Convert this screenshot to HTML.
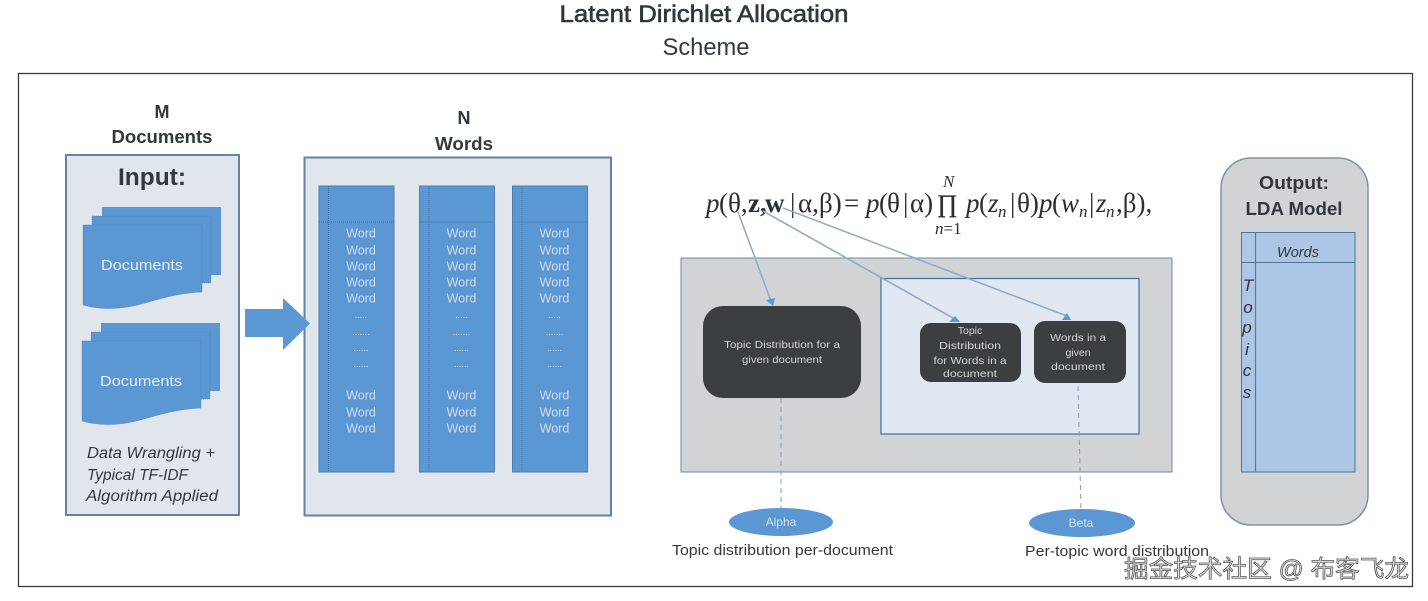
<!DOCTYPE html>
<html><head><meta charset="utf-8">
<style>
html,body{margin:0;padding:0;background:#fff;width:1428px;height:601px;overflow:hidden}
svg{display:block}
text{font-family:"Liberation Sans","DejaVu Sans",sans-serif}
.b{font-weight:bold;fill:#33383d}
.w{fill:#cfdcf0;font-size:12.5px;text-anchor:middle}
.d{fill:#cfdcf0;font-size:9px;text-anchor:middle}
.t{fill:#d4d6d8;font-size:10.5px;text-anchor:middle}
.m{font-family:"Liberation Serif",serif;font-size:27px;fill:#2b2f33}
.s{font-family:"Liberation Serif",serif;font-size:17px;fill:#2b2f33}
.i{font-style:italic}
</style></head><body>
<svg width="1428" height="601" viewBox="0 0 1428 601" xmlns="http://www.w3.org/2000/svg">
<defs>
<path id="doc" d="M0 0H119V67C96 68 80 73 62 78C38 85 18 85 0 80Z"/>
<g id="stack">
<rect x="19" y="-18" width="119" height="68" fill="#5b97d3"/>
<rect x="9" y="-9" width="119" height="67" fill="#5b97d3" stroke="#4a7fb5" stroke-width=".5" stroke-dasharray="1 1"/>
<use href="#doc" fill="#5b97d3" stroke="#4a7fb5" stroke-width=".4"/>
</g>
<g id="col">
<rect x="0" y="0" width="75" height="286" fill="#5b97d3" stroke="#4c7fb3" stroke-width="1"/>
<line x1="9.5" y1="0" x2="9.5" y2="286" stroke="#42709f" stroke-width="1" stroke-dasharray="1 1"/>
<line x1="0" y1="36" x2="75" y2="36" stroke="#42709f" stroke-width="1" stroke-dasharray="1 1"/>
<g>
<text class="w" x="42" y="51.500">Word</text>
<text class="w" x="42" y="68.500">Word</text>
<text class="w" x="42" y="84.500">Word</text>
<text class="w" x="42" y="100.500">Word</text>
<text class="w" x="42" y="116.500">Word</text>
<text class="d" x="42" y="132">.....</text>
<text class="d" x="42" y="149">.......</text>
<text class="d" x="42" y="165">......</text>
<text class="d" x="42" y="181">......</text>
<text class="w" x="42" y="213.500">Word</text>
<text class="w" x="42" y="230.500">Word</text>
<text class="w" x="42" y="246.500">Word</text>
</g>
</g>
</defs>

<!-- title -->
<text x="704" y="22" text-anchor="middle" font-size="24" fill="#33383d" stroke="#33383d" stroke-width=".6" textLength="289" lengthAdjust="spacingAndGlyphs">Latent Dirichlet Allocation</text>
<text x="706" y="55" text-anchor="middle" font-size="24" fill="#33383d" textLength="87" lengthAdjust="spacingAndGlyphs">Scheme</text>

<!-- outer frame -->
<rect x="18.500" y="73.500" width="1394" height="513" fill="#fff" stroke="#3a3a3a" stroke-width="1.300"/>

<!-- M documents -->
<text x="162" y="118" text-anchor="middle" font-size="18" class="b">M</text>
<text x="162" y="143" text-anchor="middle" font-size="18" class="b" textLength="101" lengthAdjust="spacingAndGlyphs">Documents</text>
<rect x="66" y="155" width="173" height="360" fill="#e1e5ec" stroke="#64839f" stroke-width="2"/>
<text x="152" y="185" text-anchor="middle" font-size="24" class="b" textLength="68" lengthAdjust="spacingAndGlyphs">Input:</text>
<use href="#stack" x="83" y="225"/>
<use href="#stack" x="82" y="341"/>
<text x="142" y="270" text-anchor="middle" font-size="14.500" fill="#e4ecf6" textLength="82" lengthAdjust="spacingAndGlyphs">Documents</text>
<text x="141" y="386" text-anchor="middle" font-size="14.500" fill="#e4ecf6" textLength="82" lengthAdjust="spacingAndGlyphs">Documents</text>
<g font-size="15.500" font-style="italic" fill="#33383d">
<text x="87" y="458" textLength="128" lengthAdjust="spacingAndGlyphs">Data Wrangling +</text>
<text x="87" y="480" textLength="101" lengthAdjust="spacingAndGlyphs">Typical TF-IDF</text>
<text x="86" y="501" textLength="132" lengthAdjust="spacingAndGlyphs">Algorithm Applied</text>
</g>

<!-- N words -->
<text x="464" y="124" text-anchor="middle" font-size="18" class="b">N</text>
<text x="464" y="150" text-anchor="middle" font-size="18" class="b" textLength="58" lengthAdjust="spacingAndGlyphs">Words</text>
<rect x="304.500" y="157.500" width="306.500" height="358" fill="#e1e5ec" stroke="#64839f" stroke-width="2"/>
<use href="#col" x="319" y="186"/>
<use href="#col" x="419.500" y="186"/>
<use href="#col" x="512.500" y="186"/>

<!-- big arrow -->
<polygon points="245,309 283,309 283,298 310,323.500 283,350 283,337 245,337" fill="#5b97d3"/>

<!-- formula -->
<text class="m i" x="706" y="212">p</text>
<text class="m" x="719" y="212">(</text>
<text class="m" x="728" y="212">θ,</text>
<text class="m" x="748" y="212" font-weight="bold">z,</text>
<text class="m" x="765" y="212" font-weight="bold">w</text>
<text class="m" x="790" y="212">|</text>
<text class="m" x="798" y="212">α,</text>
<text class="m" x="819" y="212">β)</text>
<text class="m" x="844" y="212">=</text>
<text class="m i" x="866" y="212">p</text>
<text class="m" x="879" y="212">(</text>
<text class="m" x="887" y="212">θ</text>
<text class="m" x="903" y="212">|</text>
<text class="m" x="910" y="212">α)</text>
<text class="m" x="937" y="212" style="font-size:25px" stroke="#2b2f33" stroke-width=".4">∏</text>
<text class="s i" x="943" y="187">N</text>
<text class="s" x="935" y="234"><tspan font-style="italic">n</tspan>=1</text>
<text class="m i" x="966" y="212">p</text>
<text class="m" x="979" y="212">(</text>
<text class="m i" x="988" y="212">z</text>
<text class="s i" x="998" y="217">n</text>
<text class="m" x="1010" y="212">|</text>
<text class="m" x="1017" y="212">θ)</text>
<text class="m i" x="1039" y="212">p</text>
<text class="m" x="1052" y="212">(</text>
<text class="m i" x="1061" y="212">w</text>
<text class="s i" x="1079" y="217">n</text>
<text class="m" x="1089" y="212">|</text>
<text class="m i" x="1096" y="212">z</text>
<text class="s i" x="1106" y="217">n</text>
<text class="m" x="1116" y="212">,β),</text>

<!-- gray panel -->
<rect x="681" y="258" width="491" height="214" fill="#d1d3d5" stroke="#6d8cab" stroke-width="1"/>
<rect x="881" y="278.500" width="258" height="155.500" fill="#e2e8f1" stroke="#3f6fa5" stroke-width="1.200"/>
<rect x="703" y="306" width="158" height="92" rx="20" fill="#3c3f41"/>
<rect x="920" y="323" width="101" height="59" rx="11" fill="#3c3f41"/>
<rect x="1034" y="321" width="92" height="62" rx="11" fill="#3c3f41"/>
<text class="t" x="782" y="348" textLength="116" lengthAdjust="spacingAndGlyphs">Topic Distribution for a</text>
<text class="t" x="782" y="363" textLength="80" lengthAdjust="spacingAndGlyphs">given document</text>
<text class="t" x="970" y="334">Topic</text>
<text class="t" x="970" y="349" textLength="62" lengthAdjust="spacingAndGlyphs">Distribution</text>
<text class="t" x="970" y="364" textLength="73" lengthAdjust="spacingAndGlyphs">for Words in a</text>
<text class="t" x="970" y="377" textLength="54" lengthAdjust="spacingAndGlyphs">document</text>
<text class="t" x="1078" y="341" textLength="56" lengthAdjust="spacingAndGlyphs">Words in a</text>
<text class="t" x="1078" y="356">given</text>
<text class="t" x="1078" y="370" textLength="54" lengthAdjust="spacingAndGlyphs">document</text>

<!-- connectors -->
<g stroke="#8faccc" stroke-width="1.600" fill="none">
<line x1="738" y1="212" x2="771" y2="301"/>
<line x1="763" y1="211" x2="953" y2="318"/>
<line x1="783" y1="208" x2="1067" y2="316"/>
</g>
<g fill="#5b97d3">
<polygon points="766,300 775,298 773,306"/>
<polygon points="949,322 955,316 960,322"/>
<polygon points="1062,320 1067,313 1071,320"/>
</g>
<g stroke="#8a9db3" stroke-width="1" stroke-dasharray="5 4" fill="none">
<line x1="781" y1="398" x2="781" y2="508"/>
<line x1="1078" y1="386" x2="1081" y2="509"/>
</g>

<!-- ellipses -->
<ellipse cx="781" cy="522" rx="52" ry="14" fill="#5b97d3"/>
<ellipse cx="1082" cy="523" rx="53" ry="14" fill="#5b97d3"/>
<text x="781" y="526" text-anchor="middle" font-size="12" fill="#d6e2f2">Alpha</text>
<text x="1081" y="527" text-anchor="middle" font-size="12" fill="#d6e2f2">Beta</text>
<text x="672" y="555" font-size="14.500" fill="#33383d" textLength="221" lengthAdjust="spacingAndGlyphs">Topic distribution per-document</text>
<text x="1025" y="556" font-size="14.500" fill="#33383d" textLength="184" lengthAdjust="spacingAndGlyphs">Per-topic word distribution</text>

<!-- output -->
<rect x="1221" y="158" width="147" height="367" rx="30" fill="#d1d3d5" stroke="#7d93a8" stroke-width="1.500"/>
<text x="1294" y="189" text-anchor="middle" font-size="18" class="b" textLength="70" lengthAdjust="spacingAndGlyphs">Output:</text>
<text x="1294" y="215" text-anchor="middle" font-size="18" class="b" textLength="97" lengthAdjust="spacingAndGlyphs">LDA Model</text>
<rect x="1241.500" y="232.500" width="113.500" height="239.500" fill="#aec6e6" stroke="#4f7398" stroke-width="1"/>
<line x1="1255.500" y1="232" x2="1255.500" y2="472" stroke="#4f7fa8" stroke-width="1.200"/>
<line x1="1241" y1="262.500" x2="1355" y2="262.500" stroke="#4f7398" stroke-width="1"/>
<text x="1298" y="257" text-anchor="middle" font-size="14.500" font-style="italic" fill="#33383d">Words</text>
<g font-size="17" font-style="italic" fill="#2f3438" text-anchor="middle">
<text x="1248" y="291">T</text>
<text x="1248" y="313">o</text>
<text x="1247" y="333">p</text>
<text x="1247" y="355">i</text>
<text x="1247" y="376">c</text>
<text x="1247" y="398">s</text>
</g>

<!-- watermark -->
<text x="1124" y="577" font-size="24" fill="#e4e4e4" stroke="#5a5a5a" stroke-width=".8" textLength="285" lengthAdjust="spacingAndGlyphs" style="font-family:'Liberation Sans','Noto Sans CJK SC',sans-serif">掘金技术社区 @ 布客飞龙</text>
</svg>
</body></html>
